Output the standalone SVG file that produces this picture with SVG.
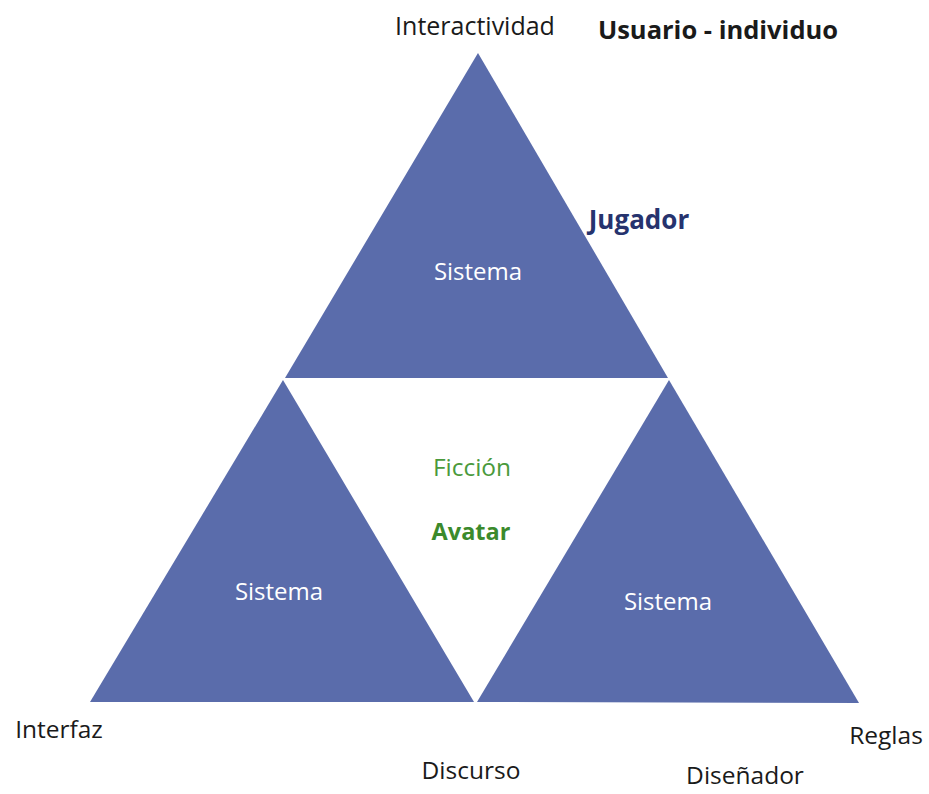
<svg xmlns="http://www.w3.org/2000/svg" width="929" height="794" viewBox="0 0 929 794">
<style>
.tri{fill:#5a6cab}
.lbl{font-family:"Open Sans","Liberation Sans",sans-serif;font-size:24.5px;fill:#1a1a1a;text-anchor:middle}
.sys{font-family:"Open Sans","Liberation Sans",sans-serif;font-size:24px;fill:#ffffff;text-anchor:middle}
.bold{font-weight:bold}
</style>
<rect width="929" height="794" fill="#ffffff"/>
<g id="connectors"></g>
<g id="top">
<polygon class="tri" points="478,53 668,378 285,378"/>
<text class="sys" x="478" y="280">Sistema</text>
</g>
<g id="left">
<polygon class="tri" points="283,380 474,702 90,702"/>
<text class="sys" x="279" y="600">Sistema</text>
</g>
<g id="right">
<polygon class="tri" points="669,380 859,703 477,702"/>
<text class="sys" x="668" y="610">Sistema</text>
</g>
<g id="center">
<text x="472" y="476" style="font-family:'Open Sans','Liberation Sans',sans-serif;font-size:24.5px;fill:#4a9a3c;text-anchor:middle">Ficción</text>
<text x="471" y="540" style="font-family:'Open Sans','Liberation Sans',sans-serif;font-size:23.5px;font-weight:bold;fill:#3b8a2c;text-anchor:middle">Avatar</text>
</g>
<g id="labels">
<text class="lbl" x="475" y="35" style="font-size:25px">Interactividad</text>
<text class="lbl bold" x="718" y="39" style="font-size:25.5px">Usuario - individuo</text>
<text class="lbl bold" x="639" y="229" style="fill:#26336e;font-size:26px">Jugador</text>
<text class="lbl" x="59" y="738">Interfaz</text>
<text class="lbl" x="471" y="779">Discurso</text>
<text class="lbl" x="886" y="744">Reglas</text>
<text class="lbl" x="745" y="784">Diseñador</text>
</g>
</svg>
